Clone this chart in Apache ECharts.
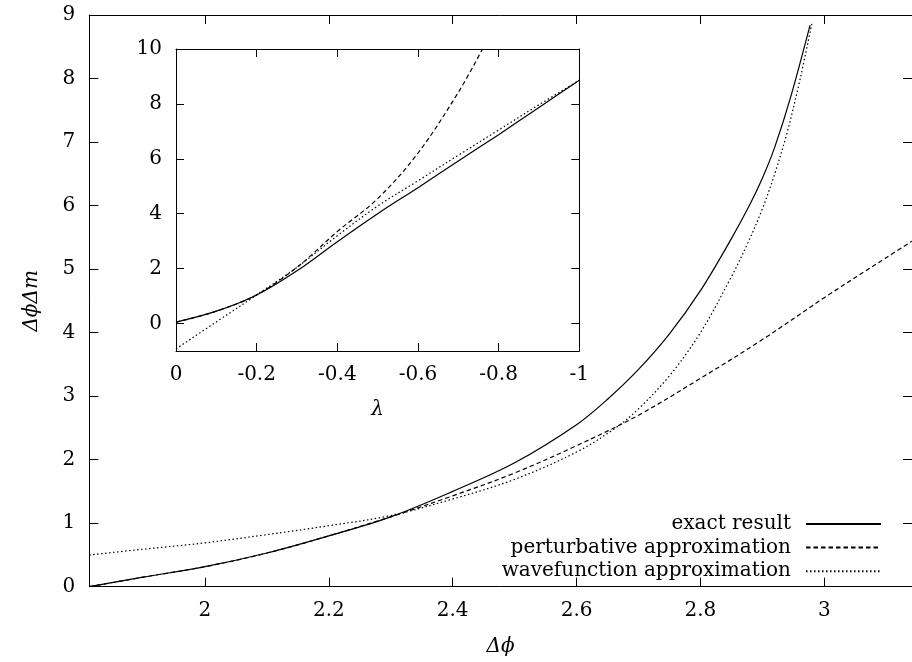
<!DOCTYPE html>
<html>
<head>
<meta charset="utf-8">
<script src="https://cdn.jsdelivr.net/npm/echarts@6/dist/echarts.min.js"></script>
<style>
html, body { margin: 0; padding: 0; background: #fff; }
#chart { width: 912px; height: 662px; }
</style>
</head>
<body>
<div id="chart"></div>
<script>
// main plot: Δϕ on x, ΔϕΔm on y
var phiMin = 1.8133, phiMax = Math.PI;
var phiTicks = [2, 2.2, 2.4, 2.6, 2.8, 3];
var prodTicks = [0, 1, 2, 3, 4, 5, 6, 7, 8, 9];

var exactPhi = [1.8133, 1.9, 2.0, 2.1, 2.2, 2.3, 2.4, 2.5, 2.6, 2.65, 2.7, 2.75, 2.8, 2.85, 2.88, 2.9, 2.92, 2.946, 2.977];
var exactVal = [0, 0.15, 0.315, 0.53, 0.8, 1.1, 1.5, 1.95, 2.55, 2.95, 3.42, 3.98, 4.66, 5.48, 6.02, 6.43, 6.92, 7.72, 8.84];

var pertPhi = [1.8133, 1.9, 2.0, 2.1, 2.2, 2.3, 2.4, 2.5, 2.6, 2.7, 2.8, 2.9, 3.0, 3.1, 3.1416];
var pertVal = [0, 0.15, 0.315, 0.53, 0.8, 1.1, 1.43, 1.79, 2.22, 2.7, 3.28, 3.89, 4.55, 5.18, 5.44];

var wavePhi = [1.8133, 1.9, 2.0, 2.1, 2.2, 2.3, 2.4, 2.5, 2.6, 2.663, 2.7, 2.75, 2.8, 2.85, 2.877, 2.9, 2.92, 2.94, 2.96, 2.98];
var waveVal = [0.5, 0.59, 0.69, 0.82, 0.96, 1.12, 1.38, 1.69, 2.12, 2.5, 2.8, 3.32, 4.0, 4.88, 5.42, 5.95, 6.5, 7.15, 7.95, 8.87];

// inset: λ on x (0 .. -1)
var lamTicks = [0, -0.2, -0.4, -0.6, -0.8, -1];
var insetTicks = [0, 2, 4, 6, 8, 10];

var lam = [0, -0.1, -0.2, -0.3, -0.4, -0.5, -0.6, -0.7, -0.8, -0.9, -1];
var insetExact = [0.05, 0.45, 1.04, 1.92, 2.98, 4.0, 4.95, 5.92, 6.88, 7.87, 8.86];
var insetWave = [-0.92, 0.06, 1.04, 2.05, 3.2, 4.28, 5.2, 6.13, 7.05, 7.97, 8.86];
var pertLam = [0, -0.1, -0.2, -0.3, -0.4, -0.5, -0.6, -0.7, -0.76];
var insetPert = [0.05, 0.45, 1.05, 2.05, 3.35, 4.55, 6.21, 8.42, 10.0];

var names = ['exact result', 'perturbative approximation', 'wavefunction approximation'];
var dashes = ['solid', [4.5, 3], [1.5, 2.5]];

var font = 'DejaVu Serif';
var ink = '#000';

function pairs(xs, ys) {
  return xs.map(function (x, i) { return [x, ys[i]]; });
}

function axis(grid, pos, min, max, ticks, tickLen, showLabel, extra) {
  var a = {
    type: 'value',
    gridIndex: grid,
    position: pos,
    min: min,
    max: max,
    axisLine: { onZero: false, lineStyle: { color: ink, width: 1 } },
    axisTick: { inside: true, length: tickLen, customValues: ticks, lineStyle: { color: ink, width: 1 } },
    axisLabel: {
      show: showLabel,
      customValues: ticks,
      margin: 14,
      color: ink,
      fontFamily: font,
      fontSize: 20,
      formatter: function (v) { return String(v); }
    },
    splitLine: { show: false }
  };
  for (var k in extra) a[k] = extra[k];
  return a;
}

var nameStyle = { fontFamily: font, fontStyle: 'italic', fontSize: 20, color: ink };

var chart = echarts.init(document.getElementById('chart'));

var option = {
  animation: false,
  backgroundColor: '#fff',
  grid: [
    { left: 89.3, top: 15, width: 825.3, height: 571.7 },
    { left: 176, top: 49, width: 403.3, height: 302 }
  ],
  xAxis: [
    axis(0, 'bottom', phiMin, phiMax, phiTicks, 9, true,
      { name: 'Δϕ', nameLocation: 'middle', nameGap: 50, nameTextStyle: nameStyle }),
    axis(0, 'top', phiMin, phiMax, phiTicks, 9, false, {}),
    axis(1, 'bottom', -1, 0, lamTicks, 8, true,
      { inverse: true, name: 'λ', nameLocation: 'middle', nameGap: 49, nameTextStyle: nameStyle }),
    axis(1, 'top', -1, 0, lamTicks, 8, false, { inverse: true })
  ],
  yAxis: [
    axis(0, 'left', 0, 9, prodTicks, 9, true,
      { name: 'ΔϕΔm', nameLocation: 'middle', nameGap: 48, nameRotate: 90, nameTextStyle: nameStyle }),
    axis(0, 'right', 0, 9, prodTicks, 9, false, {}),
    axis(1, 'left', -1, 10, insetTicks, 8, true, {}),
    axis(1, 'right', -1, 10, insetTicks, 8, false, {})
  ],
  legend: {
    data: names,
    orient: 'vertical',
    right: 25,
    top: 509,
    align: 'right',
    itemWidth: 75,
    itemHeight: 20,
    itemGap: 3.6,
    selectedMode: false,
    itemStyle: { opacity: 0 },
    textStyle: { fontFamily: font, fontSize: 20, color: ink, padding: [0, 10, 0, 0] }
  },
  series: []
};

var mainData = [pairs(exactPhi, exactVal), pairs(pertPhi, pertVal), pairs(wavePhi, waveVal)];
var insetData = [pairs(lam, insetExact), pairs(pertLam, insetPert), pairs(lam, insetWave)];

function addSeries(n, i, data, xi) {
  option.series.push({
    name: n, type: 'line', xAxisIndex: xi, yAxisIndex: xi,
    data: data, symbol: 'none', smooth: 0.35,
    itemStyle: { color: ink },
    lineStyle: { color: ink, width: 1.2, type: dashes[i] }
  });
}

names.forEach(function (n, i) { addSeries(n, i, mainData[i], 0); });
names.forEach(function (n, i) { addSeries(n, i, insetData[i], 2); });

chart.setOption(option);

window.onresize = function () { chart.resize(); };
</script>
</body>
</html>
